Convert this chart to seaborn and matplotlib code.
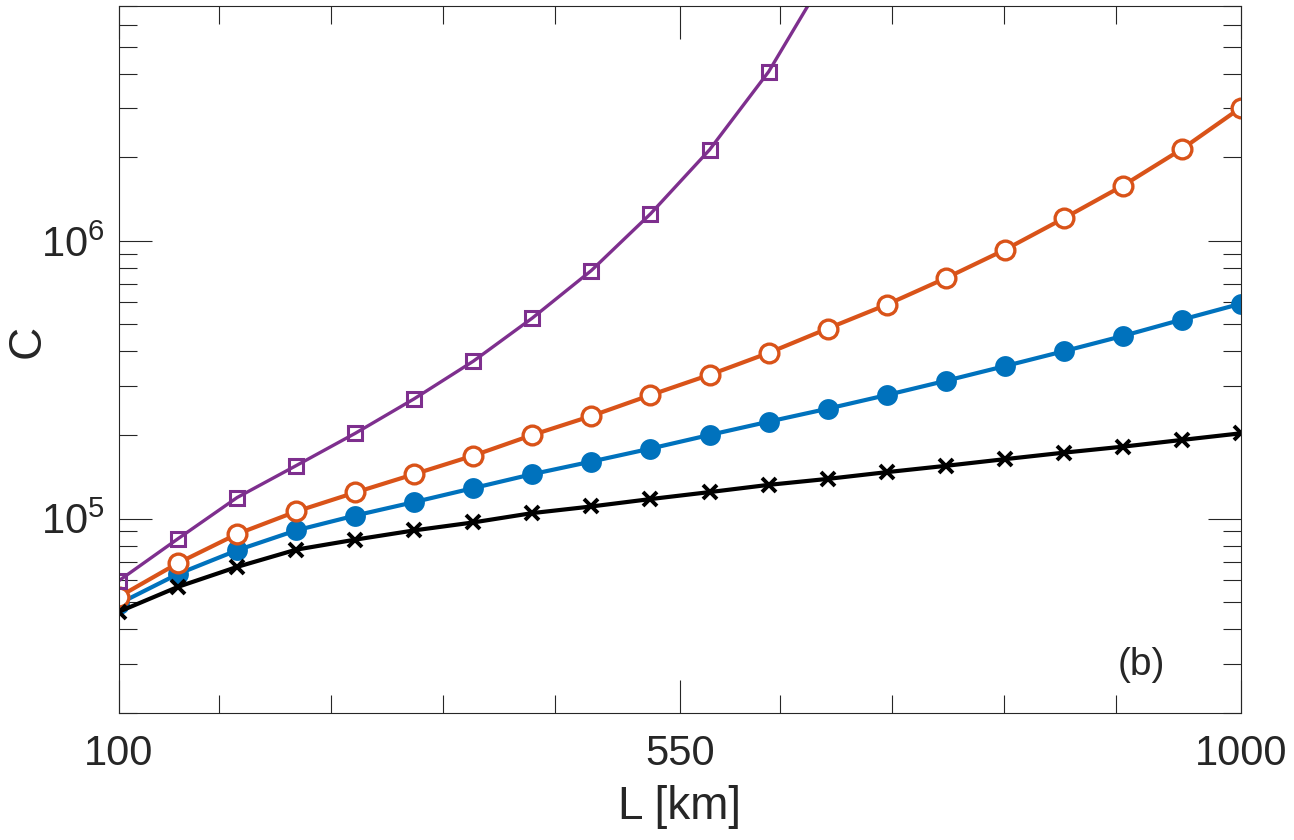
import matplotlib
matplotlib.use("Agg")
import matplotlib.pyplot as plt
import seaborn as sns
from matplotlib.ticker import FixedLocator, LogLocator, LogFormatterMathtext, NullFormatter

# L grid, 20 points from 100 to 1000 km
L_km = [100.0, 147.4, 194.7, 242.1, 289.5, 336.8, 384.2, 431.6, 478.9, 526.3,
        573.7, 621.1, 668.4, 715.8, 763.2, 810.5, 857.9, 905.3, 952.6, 1000.0]

C_black = [4.63e4, 5.69e4, 6.71e4, 7.74e4, 8.41e4, 9.08e4, 9.70e4, 1.048e5, 1.107e5, 1.177e5,
           1.247e5, 1.324e5, 1.391e5, 1.471e5, 1.550e5, 1.638e5, 1.729e5, 1.817e5, 1.921e5, 2.030e5]
C_blue = [4.95e4, 6.33e4, 7.70e4, 9.08e4, 1.027e5, 1.148e5, 1.289e5, 1.447e5, 1.606e5, 1.788e5,
          2.002e5, 2.235e5, 2.488e5, 2.786e5, 3.135e5, 3.540e5, 4.006e5, 4.547e5, 5.206e5, 5.941e5]
C_orange = [5.24e4, 6.93e4, 8.81e4, 1.062e5, 1.243e5, 1.447e5, 1.687e5, 2.002e5, 2.343e5, 2.786e5,
            3.295e5, 3.951e5, 4.834e5, 5.893e5, 7.34e5, 9.28e5, 1.205e6, 1.579e6, 2.138e6, 3.016e6]
# purple leaves the top of the axes after the 12th point, rest not readable
C_purple = [5.99e4, 8.48e4, 1.192e5, 1.553e5, 2.030e5, 2.702e5, 3.689e5, 5.277e5, 7.82e5, 1.250e6,
            2.126e6, 4.06e6, 9.22e6]

x_major = [100, 550, 1000]
x_minor = [180, 270, 360, 450, 630, 720, 810, 900]

sns.set_style("ticks")
plt.rcParams["font.family"] = ["Liberation Sans", "DejaVu Sans"]
plt.rcParams["mathtext.default"] = "regular"
txt = "#262626"

fig = plt.figure(figsize=(12.94, 8.4), dpi=100)
ax = fig.add_axes([0.0920, 0.1512, 0.8670, 0.8417])

series = [
    (C_blue, "#0072BD", dict(marker="o", markersize=15, markeredgewidth=0, linewidth=3.0)),
    (C_orange, "#D95319", dict(marker="o", markersize=13.5, markerfacecolor="white",
                               markeredgewidth=2.4, linewidth=3.0)),
    (C_purple, "#7E2F8E", dict(marker="s", markersize=9.5, markerfacecolor="none",
                               markeredgewidth=2.2, linewidth=2.4)),
    (C_black, "black", dict(marker="x", markersize=10, markeredgewidth=2.8, linewidth=3.0)),
]
for vals, col, kw in series:
    sns.lineplot(x=L_km[:len(vals)], y=vals, ax=ax, color=col, markeredgecolor=col, **kw)

ax.set_yscale("log")
ax.set_xlim(100, 1000)
ax.set_ylim(2e4, 7e6)

ax.xaxis.set_major_locator(FixedLocator(x_major))
ax.xaxis.set_minor_locator(FixedLocator(x_minor))
ax.yaxis.set_major_locator(LogLocator(base=10))
ax.yaxis.set_minor_locator(LogLocator(base=10, subs=range(2, 10)))
ax.yaxis.set_major_formatter(LogFormatterMathtext())
ax.yaxis.set_minor_formatter(NullFormatter())

ax.tick_params(which="both", direction="in", top=True, right=True, colors=txt,
               width=0.8, labelsize=30, labelcolor=txt)
ax.tick_params(which="major", length=24)
ax.tick_params(which="minor", length=12.7)
ax.tick_params(axis="x", which="major", pad=15)
ax.tick_params(axis="y", which="major", pad=10)
for sp in ax.spines.values():
    sp.set_color(txt)
    sp.set_linewidth(0.8)

ax.set_xlabel("L [km]", fontsize=33, color=txt, labelpad=8)
ax.set_ylabel("C", fontsize=33, color=txt)
ax.yaxis.set_label_coords(-0.0615, 0.525)
ax.text(0.890, 0.068, "(b)", transform=ax.transAxes, fontsize=28, color=txt,
        ha="left", va="center")

fig.savefig("out.png", dpi=100)
